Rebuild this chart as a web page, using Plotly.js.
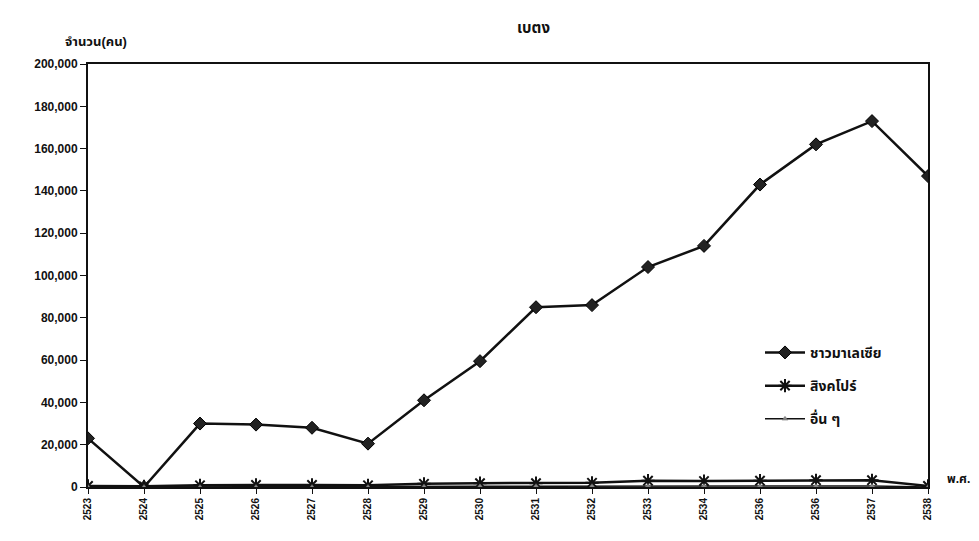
<!DOCTYPE html>
<html>
<head>
<meta charset="utf-8">
<script src="https://cdn.plot.ly/plotly-3.0.1.min.js"></script>
<style>html,body{margin:0;padding:0;background:#fff;}#chart{width:979px;height:541px;}</style>
</head>
<body>
<div id="chart"></div>
<script>
const years = [2523,2524,2525,2526,2527,2528,2529,2530,2531,2532,2533,2534,2535,2536,2537,2538];
const yearLabels = ["2523","2524","2525","2526","2527","2528","2529","2530","2531","2532","2533","2534","2536","2536","2537","2538"];
const malaysia = [23000,0,30000,29500,28000,20500,41000,59500,85000,86000,104000,114000,143000,162000,173000,147000];
const singapore = [500,300,800,1000,1000,800,1500,1800,1800,2000,3000,2800,3000,3200,3200,500];
const others = [0,0,0,0,0,0,200,300,400,400,500,500,500,500,500,0];
const seriesNames = ["ชาวมาเลเซีย","สิงคโปร์","อื่น ๆ"];
const titleText = "เบตง";
const yTitle = "จำนวน(คน)";
const xTitle = "พ.ศ.";

const F = "Arial, 'Liberation Sans', 'Noto Sans Thai', 'Noto Sans', sans-serif";

const traces = [
  {x: years, y: malaysia, name: seriesNames[0], legendgroup: "a", mode: "lines+markers",
   line: {color: "#111", width: 2.5},
   marker: {symbol: "diamond", size: 10, color: "#222", line: {color: "#000", width: 1}}},
  {x: years, y: singapore, name: seriesNames[1], legendgroup: "b", mode: "lines+markers",
   line: {color: "#111", width: 2.5},
   marker: {symbol: "asterisk-open", size: 11, color: "#111", line: {color: "#111", width: 2}}},
  {x: years, y: others, name: seriesNames[2], legendgroup: "c", mode: "lines+markers",
   line: {color: "#111", width: 1.5},
   marker: {symbol: "triangle-up", size: 5, color: "#888", line: {color: "#666", width: 0.5}}}
];

const layout = {
  width: 979, height: 541,
  paper_bgcolor: "#fff", plot_bgcolor: "#fff",
  margin: {l: 88, r: 51, t: 64, b: 54},
  showlegend: true,
  font: {family: F, color: "#111"},
  title: {text: "<b>" + titleText + "</b>", x: 0.545, xanchor: "center", y: 0.948, yanchor: "middle",
          font: {size: 15, family: F, color: "#111"}},
  xaxis: {
    range: [2523, 2538], tickmode: "array", tickvals: years, ticktext: yearLabels,
    tickangle: -90, tickfont: {size: 10, family: F, color: "#111", weight: "bold"},
    ticks: "outside", ticklen: 5, tickcolor: "#111",
    showline: true, linecolor: "#111", linewidth: 2, mirror: true,
    showgrid: false, zeroline: false, fixedrange: true
  },
  yaxis: {
    range: [0, 200000], tickmode: "array",
    tickvals: [0,20000,40000,60000,80000,100000,120000,140000,160000,180000,200000],
    ticktext: ["0","20,000","40,000","60,000","80,000","100,000","120,000","140,000","160,000","180,000","200,000"],
    tickfont: {size: 12, family: F, color: "#111", weight: "bold"},
    ticks: "outside", ticklen: 6, tickcolor: "#111",
    showline: true, linecolor: "#111", linewidth: 2, mirror: true,
    showgrid: false, zeroline: false, fixedrange: true
  },
  legend: {
    x: 0.80, y: 0.355, xanchor: "left", yanchor: "top",
    bgcolor: "rgba(0,0,0,0)", borderwidth: 0,
    font: {size: 14, family: F, color: "#111", weight: "bold"},
    itemwidth: 40, tracegroupgap: 12
  },
  annotations: [
    {text: "<b>" + yTitle + "</b>", xref: "paper", yref: "paper", x: -0.03, y: 1.03,
     xanchor: "left", yanchor: "bottom", showarrow: false, font: {size: 13, family: F, color: "#111"}},
    {text: "<b>" + xTitle + "</b>", xref: "paper", yref: "paper", x: 1.02, y: 0.02,
     xanchor: "left", yanchor: "middle", showarrow: false, font: {size: 12, family: F, color: "#111"}}
  ]
};

Plotly.newPlot("chart", traces, layout, {displayModeBar: false, staticPlot: true});
</script>
</body>
</html>
